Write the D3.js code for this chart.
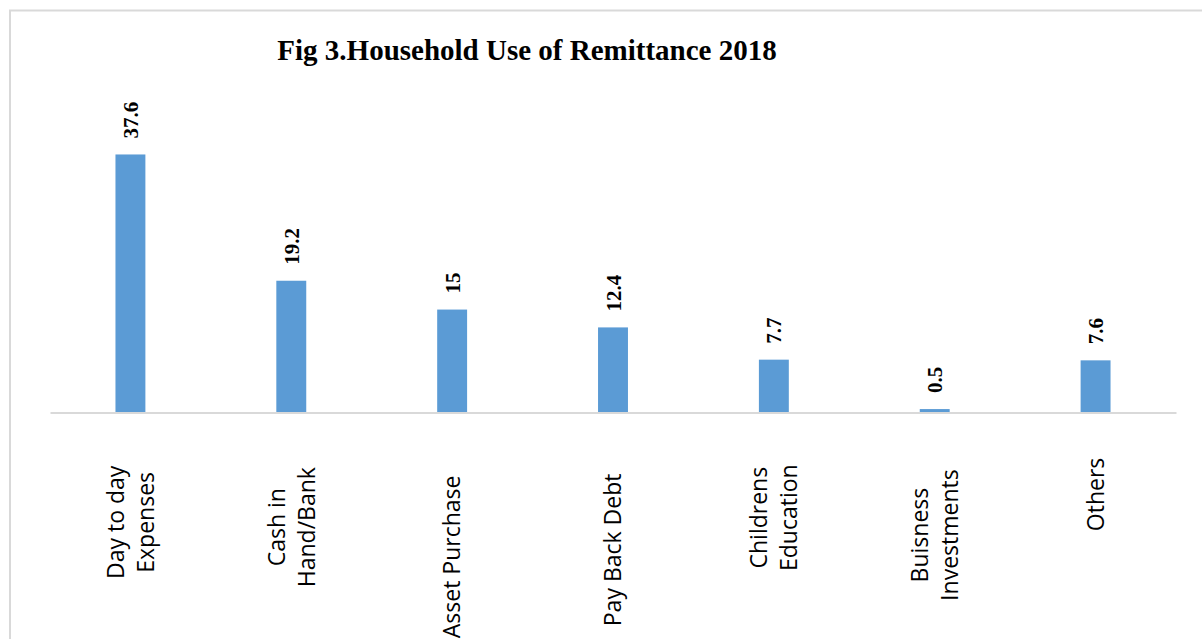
<!DOCTYPE html>
<html>
<head>
<meta charset="utf-8">
<script src="https://cdn.jsdelivr.net/npm/d3@7"></script>
<style>
  html, body { margin: 0; padding: 0; background: #fff; }
  svg { display: block; }
</style>
</head>
<body>
<svg id="chart" width="1202" height="639"></svg>
<script>
const titleText = "Fig 3.Household Use of Remittance 2018";
const categories = [
  ["Day to day", "Expenses"],
  ["Cash in", "Hand/Bank"],
  ["Asset Purchase"],
  ["Pay Back Debt"],
  ["Childrens", "Education"],
  ["Buisness", "Investments"],
  ["Others"]
];
const values = [37.6, 19.2, 15, 12.4, 7.7, 0.5, 7.6];
const valueLabels = ["37.6", "19.2", "15", "12.4", "7.7", "0.5", "7.6"];

const svg = d3.select("#chart");

// frame
svg.append("rect")
  .attr("x", 10).attr("y", 10.5)
  .attr("width", 1210).attr("height", 700)
  .attr("fill", "#fff")
  .attr("stroke", "#d9d9d9").attr("stroke-width", 2);

const x = d3.scaleBand()
  .domain(d3.range(categories.length))
  .range([50, 1176])
  .paddingInner(0.814)
  .paddingOuter(0.407);

const y = d3.scaleLinear().domain([0, 40]).range([412.5, 138]);

// title
svg.append("text")
  .attr("x", 527).attr("y", 60)
  .attr("text-anchor", "middle")
  .attr("font-family", "'Liberation Serif', 'Times New Roman', serif")
  .attr("font-weight", "bold")
  .attr("font-size", 29)
  .attr("fill", "#000")
  .text(titleText);

// bars
svg.append("g").selectAll("rect")
  .data(values)
  .join("rect")
  .attr("x", (d, i) => x(i))
  .attr("width", x.bandwidth())
  .attr("y", d => y(d))
  .attr("height", d => y(0) - y(d))
  .attr("fill", "#5b9bd5");

// baseline axis
const axis = d3.axisBottom(x).tickSize(0).tickFormat("");
const ag = svg.append("g").attr("transform", `translate(0,${y(0)})`).call(axis);
ag.select(".domain").attr("stroke", "#d9d9d9").attr("stroke-width", 2);

// value labels (rotated)
svg.append("g").selectAll("text")
  .data(values)
  .join("text")
  .attr("transform", (d, i) => `translate(${x(i) + x.bandwidth() / 2 + 7.5},${y(d) - 16}) rotate(-90)`)
  .attr("text-anchor", "start")
  .attr("font-family", "'Liberation Serif', 'Times New Roman', serif")
  .attr("font-weight", "bold")
  .attr("font-size", 21)
  .attr("fill", "#000")
  .text((d, i) => valueLabels[i]);

// category labels (rotated, centered lines)
const fs = 23, lh = 30;
const cg = svg.append("g");
categories.forEach((lines, i) => {
  const cx = x(i) + x.bandwidth() / 2;
  const g = cg.append("g");
  const t = g.append("text")
    .attr("font-family", "'Open Sans', 'Liberation Sans', sans-serif")
    .attr("font-size", fs)
    .attr("fill", "#000")
    .attr("text-anchor", "middle");
  const n = lines.length;
  lines.forEach((ln, j) => {
    t.append("tspan")
      .attr("x", 0)
      .attr("y", (j - (n - 1) / 2) * lh + fs * 0.36)
      .text(ln);
  });
  const maxLen = d3.max(t.selectAll("tspan").nodes(), nd => nd.getComputedTextLength());
  const topY = 443 + 0.2 * maxLen;
  g.attr("transform", `translate(${cx},${topY + maxLen / 2}) rotate(-90)`);
});
</script>
</body>
</html>
